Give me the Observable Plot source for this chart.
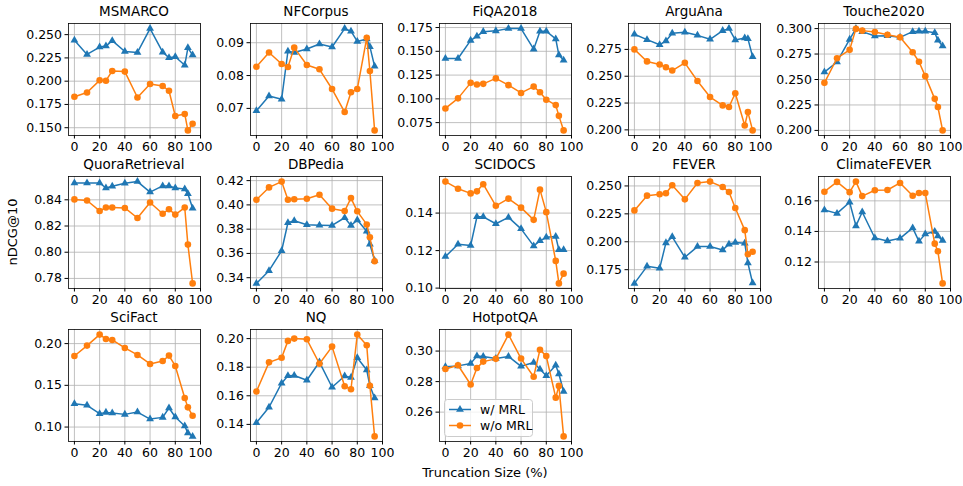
<!DOCTYPE html>
<html><head><meta charset="utf-8">
<script src="https://cdn.jsdelivr.net/npm/d3@7"></script>
<script src="https://cdn.jsdelivr.net/npm/@observablehq/plot@0.6"></script>
<style>
html,body{margin:0;padding:0;background:#fff;}
#fig{position:relative;width:963px;height:486px;overflow:hidden;font-family:"DejaVu Sans",sans-serif;color:#000;}
.panel{position:absolute;}
.lab{position:absolute;font-size:13px;font-weight:normal;white-space:nowrap;line-height:1;}
.ttl{position:absolute;font-size:13.5px;font-weight:normal;white-space:nowrap;line-height:1;transform:translate(-50%,-50%);}
</style></head>
<body><div id="fig"></div>
<script>
// ---------------- data ----------------
const truncation = [0, 10, 20, 25, 30, 40, 50, 60, 70, 75, 80, 87.5, 90, 93.75];
const xTicks = [0, 20, 40, 60, 80, 100];
const seriesNames = ["w/ MRL", "w/o MRL"];

const msmarcoMRL  = [0.2439,0.2287,0.2366,0.2377,0.2435,0.2319,0.2309,0.2565,0.2312,0.2251,0.2262,0.2171,0.2359,0.2280];
const msmarcoBase = [0.1832,0.1879,0.2009,0.2005,0.2110,0.2103,0.1825,0.1969,0.1948,0.1897,0.1626,0.1648,0.1471,0.1543];
const msmarcoTicks = [0.150,0.175,0.200,0.225,0.250];

const nfcorpusMRL  = [0.0693,0.0738,0.0728,0.0874,0.0870,0.0881,0.0896,0.0887,0.0943,0.0935,0.0904,0.0911,0.0888,0.0828];
const nfcorpusBase = [0.0827,0.0870,0.0835,0.0826,0.0885,0.0832,0.0819,0.0759,0.0689,0.0749,0.0759,0.0915,0.0814,0.0633];
const nfcorpusTicks = [0.07,0.08,0.09];

const fiqaMRL  = [0.1424,0.1424,0.1615,0.1658,0.1707,0.1715,0.1739,0.1739,0.1523,0.1711,0.1711,0.1630,0.1460,0.1406];
const fiqaBase = [0.0899,0.1005,0.1168,0.1151,0.1158,0.1215,0.1144,0.1062,0.1129,0.1069,0.0991,0.0934,0.0821,0.0668];
const fiqaTicks = [0.075,0.100,0.125,0.150,0.175];

const arguanaMRL  = [0.2891,0.2841,0.2794,0.2828,0.2900,0.2909,0.2881,0.2844,0.2925,0.2944,0.2838,0.2856,0.2850,0.2681];
const arguanaBase = [0.2750,0.2638,0.2609,0.2584,0.2553,0.2625,0.2456,0.2306,0.2228,0.2213,0.2341,0.2041,0.2166,0.1995];
const arguanaTicks = [0.200,0.225,0.250,0.275];

const toucheMRL  = [0.2573,0.2672,0.2894,0.3000,0.2970,0.2927,0.2930,0.2914,0.2970,0.2974,0.2974,0.2960,0.2885,0.2830];
const toucheBase = [0.2467,0.2709,0.2791,0.2997,0.2980,0.2967,0.2940,0.2914,0.2768,0.2675,0.2533,0.2310,0.2230,0.2000];
const toucheTicks = [0.200,0.225,0.250,0.275,0.300];

const quoraMRL  = [0.8529,0.8529,0.8529,0.8490,0.8503,0.8526,0.8539,0.8459,0.8506,0.8506,0.8490,0.8482,0.8446,0.8336];
const quoraBase = [0.8403,0.8395,0.8315,0.8341,0.8341,0.8338,0.8261,0.8379,0.8294,0.8328,0.8287,0.8341,0.8058,0.7762];
const quoraTicks = [0.78,0.80,0.82,0.84];

const dbpediaMRL  = [0.3353,0.3458,0.3622,0.3853,0.3870,0.3836,0.3833,0.3831,0.3894,0.3831,0.3875,0.3783,0.3675,0.3542];
const dbpediaBase = [0.4042,0.4144,0.4192,0.4042,0.4047,0.4050,0.4083,0.3969,0.3950,0.4056,0.3947,0.3839,0.3733,0.3536];
const dbpediaTicks = [0.34,0.36,0.38,0.40,0.42];

const scidocsMRL  = [0.1168,0.1234,0.1227,0.1380,0.1380,0.1343,0.1377,0.1316,0.1225,0.1252,0.1271,0.1275,0.1204,0.1205];
const scidocsBase = [0.1568,0.1530,0.1505,0.1516,0.1554,0.1439,0.1477,0.1429,0.1364,0.1525,0.1405,0.1145,0.1025,0.1077];
const scidocsTicks = [0.10,0.12,0.14];

const feverMRL  = [0.1627,0.1780,0.1762,0.1990,0.2044,0.1861,0.1957,0.1957,0.1927,0.1978,0.1993,0.1987,0.1810,0.1630];
const feverBase = [0.2281,0.2413,0.2425,0.2434,0.2506,0.2380,0.2527,0.2539,0.2491,0.2446,0.2302,0.2104,0.1888,0.1910];
const feverTicks = [0.175,0.200,0.225,0.250];

const climateMRL  = [0.1540,0.1518,0.1591,0.1436,0.1527,0.1357,0.1337,0.1355,0.1423,0.1335,0.1383,0.1400,0.1370,0.1340];
const climateBase = [0.1660,0.1724,0.1657,0.1726,0.1631,0.1669,0.1671,0.1717,0.1633,0.1651,0.1651,0.1320,0.1270,0.1060];
const climateTicks = [0.12,0.14,0.16];

const scifactMRL  = [0.1280,0.1260,0.1160,0.1176,0.1168,0.1152,0.1180,0.1096,0.1116,0.1228,0.1120,0.1012,0.0928,0.0888];
const scifactBase = [0.1852,0.1976,0.2108,0.2056,0.2044,0.1948,0.1864,0.1756,0.1792,0.1856,0.1732,0.1348,0.1236,0.1136];
const scifactTicks = [0.10,0.15,0.20];

const nqMRL  = [0.1412,0.1520,0.1688,0.1740,0.1742,0.1709,0.1836,0.1660,0.1738,0.1728,0.1866,0.1780,0.1670,0.1585];
const nqBase = [0.1630,0.1834,0.1866,0.1984,0.2000,0.1995,0.1824,0.1944,0.1667,0.1646,0.2028,0.1953,0.1670,0.1316];
const nqTicks = [0.14,0.16,0.18,0.20];

const hotpotMRL  = [0.2898,0.2903,0.2918,0.2967,0.2965,0.2951,0.2965,0.2900,0.2925,0.2881,0.2839,0.2907,0.2850,0.2735];
const hotpotBase = [0.2883,0.2907,0.2781,0.2889,0.2931,0.2949,0.3108,0.2951,0.2832,0.3009,0.2967,0.2695,0.2772,0.2441];
const hotpotTicks = [0.26,0.28,0.30];

const panels = [
  {title:"MSMARCO", mrl:msmarcoMRL, base:msmarcoBase, ticks:msmarcoTicks, fmt:".3f"},
  {title:"NFCorpus", mrl:nfcorpusMRL, base:nfcorpusBase, ticks:nfcorpusTicks, fmt:".2f"},
  {title:"FiQA2018", mrl:fiqaMRL, base:fiqaBase, ticks:fiqaTicks, fmt:".3f"},
  {title:"ArguAna", mrl:arguanaMRL, base:arguanaBase, ticks:arguanaTicks, fmt:".3f"},
  {title:"Touche2020", mrl:toucheMRL, base:toucheBase, ticks:toucheTicks, fmt:".3f"},
  {title:"QuoraRetrieval", mrl:quoraMRL, base:quoraBase, ticks:quoraTicks, fmt:".2f"},
  {title:"DBPedia", mrl:dbpediaMRL, base:dbpediaBase, ticks:dbpediaTicks, fmt:".2f"},
  {title:"SCIDOCS", mrl:scidocsMRL, base:scidocsBase, ticks:scidocsTicks, fmt:".2f"},
  {title:"FEVER", mrl:feverMRL, base:feverBase, ticks:feverTicks, fmt:".3f"},
  {title:"ClimateFEVER", mrl:climateMRL, base:climateBase, ticks:climateTicks, fmt:".2f"},
  {title:"SciFact", mrl:scifactMRL, base:scifactBase, ticks:scifactTicks, fmt:".2f"},
  {title:"NQ", mrl:nqMRL, base:nqBase, ticks:nqTicks, fmt:".2f"},
  {title:"HotpotQA", mrl:hotpotMRL, base:hotpotBase, ticks:hotpotTicks, fmt:".2f"}
];

// ---------------- layout ----------------
const BLUE = "#1f77b4", ORANGE = "#ff7f0e";
const colLefts = [68, 250, 439, 628, 818];
const rowTops = [23, 176, 329];
const FW = 132, FH = 112;
const ML = 62, MR = 14, MT = 26, MB = 28;
const fig = document.getElementById("fig");

panels.forEach((p, i) => {
  const col = i % 5, row = Math.floor(i / 5);
  const all = p.mrl.concat(p.base);
  const [lo, hi] = d3.extent(all);
  const pad = (hi - lo) * 0.05;
  const xr = truncation[truncation.length - 1] - truncation[0];
  const xDomain = [truncation[0] - xr * 0.05, Math.max(xTicks[xTicks.length - 1], truncation[truncation.length - 1] + xr * 0.05)];
  const rowsA = truncation.map((x, k) => ({x, y: p.mrl[k]}));
  const rowsB = truncation.map((x, k) => ({x, y: p.base[k]}));
  const chart = Plot.plot({
    width: ML + FW + MR,
    height: MT + FH + MB,
    marginLeft: ML, marginRight: MR, marginTop: MT, marginBottom: MB,
    style: {background: "transparent", overflow: "visible", fontFamily: "DejaVu Sans, sans-serif", fontSize: "12.5px", fontWeight: "normal", color: "#000"},
    x: {domain: xDomain, ticks: xTicks, tickFormat: d3.format("d"), tickSize: 3.5, tickPadding: 3, label: null},
    y: {domain: [lo - pad, hi + pad], ticks: p.ticks, tickFormat: d3.format(p.fmt), tickSize: 3.5, tickPadding: 3, label: null},
    marks: [
      Plot.ruleX(xTicks.filter(t => t >= xDomain[0] && t <= xDomain[1]), {stroke: "#b0b0b0", strokeWidth: 0.8}),
      Plot.ruleY(p.ticks, {stroke: "#b0b0b0", strokeWidth: 0.8}),
      Plot.line(rowsA, {x: "x", y: "y", stroke: BLUE, strokeWidth: 1.5}),
      Plot.dot(rowsA, {x: "x", y: "y", fill: BLUE, stroke: "none", symbol: "triangle", r: 2.9}),
      Plot.line(rowsB, {x: "x", y: "y", stroke: ORANGE, strokeWidth: 1.5}),
      Plot.dot(rowsB, {x: "x", y: "y", fill: ORANGE, stroke: "none", symbol: "circle", r: 3.3}),
      Plot.frame({stroke: "#000", strokeWidth: 0.8})
    ]
  });
  const div = document.createElement("div");
  div.className = "panel";
  div.style.left = (colLefts[col] - ML) + "px";
  div.style.top = (rowTops[row] - MT) + "px";
  div.style.width = (ML + FW + MR) + "px";
  div.appendChild(chart);
  fig.appendChild(div);
  const t = document.createElement("div");
  t.className = "ttl";
  t.textContent = p.title;
  t.style.left = (colLefts[col] + FW / 2) + "px";
  t.style.top = (rowTops[row] - 11) + "px";
  fig.appendChild(t);
});

// axis labels
const yl = document.createElement("div");
yl.className = "lab";
yl.textContent = "nDCG@10";
yl.style.left = "12px"; yl.style.top = "232px";
yl.style.transform = "translate(-50%,-50%) rotate(-90deg)";
fig.appendChild(yl);
const xl = document.createElement("div");
xl.className = "lab";
xl.textContent = "Truncation Size (%)";
xl.style.left = "485px"; xl.style.top = "472px";
xl.style.transform = "translate(-50%,-50%)";
fig.appendChild(xl);

// legend (inside HotpotQA panel)
const leg = d3.select(fig).append("svg")
  .style("position", "absolute").style("left", "444px").style("top", "399px")
  .attr("width", 92).attr("height", 40)
  .style("font-family", "DejaVu Sans, sans-serif").style("font-size", "12.5px");
leg.append("rect").attr("x", 0.5).attr("y", 0.5).attr("width", 88).attr("height", 37).attr("rx", 3)
  .attr("fill", "#fff").attr("fill-opacity", 0.8).attr("stroke", "#cccccc");
const entries = [{name: seriesNames[0], color: BLUE, sym: d3.symbolTriangle, size: Math.PI * 2.9 * 2.9},
                 {name: seriesNames[1], color: ORANGE, sym: d3.symbolCircle, size: Math.PI * 3.3 * 3.3}];
entries.forEach((e, k) => {
  const cy = 10.5 + k * 16;
  leg.append("line").attr("x1", 5).attr("x2", 27).attr("y1", cy).attr("y2", cy).attr("stroke", e.color).attr("stroke-width", 1.5);
  leg.append("path").attr("d", d3.symbol(e.sym, e.size)()).attr("transform", `translate(16,${cy})`).attr("fill", e.color);
  leg.append("text").attr("x", 36).attr("y", cy).attr("dy", "0.35em").text(e.name);
});
</script>
</body></html>
